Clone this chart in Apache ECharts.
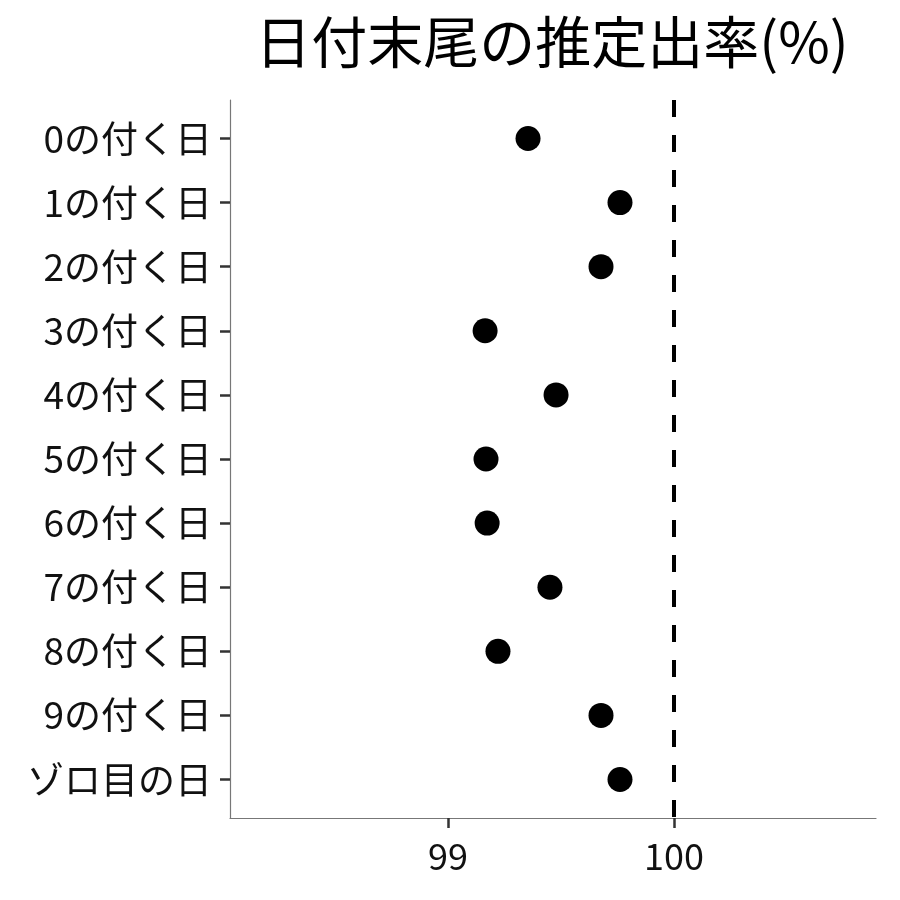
<!DOCTYPE html>
<html>
<head>
<meta charset="utf-8">
<script src="https://cdn.jsdelivr.net/npm/echarts@6/dist/echarts.min.js"></script>
<style>
  html, body { margin: 0; padding: 0; background: #fff; }
  #main { width: 900px; height: 900px; }
</style>
</head>
<body>
<div id="main"></div>
<script>
var categories = ['0の付く日', '1の付く日', '2の付く日', '3の付く日', '4の付く日', '5の付く日',
  '6の付く日', '7の付く日', '8の付く日', '9の付く日', 'ゾロ目の日']
var rates = [99.354, 99.761, 99.677, 99.164, 99.478, 99.168, 99.173, 99.451, 99.221, 99.677, 99.761]
var xTicks = [99, 100]
var refLine = 100

var font = '"Noto Sans CJK JP", "Noto Sans", sans-serif'
var chart = echarts.init(document.getElementById('main'))

// y is a value axis so the 0.6 band padding like ggplot can be kept
var points = rates.map(function (v, i) { return [v, i + 1] })
var yPos = categories.map(function (c, i) { return i + 1 })

chart.setOption({
  animation: false,
  title: {
    text: '日付末尾の推定出率(%)',
    left: 547,
    top: 9,
    textAlign: 'center',
    textStyle: { fontFamily: font, fontSize: 56, fontWeight: 'normal', color: '#000' }
  },
  grid: { left: 230, right: 24, top: 100, bottom: 82 },
  xAxis: {
    type: 'value',
    min: 98.035,
    max: 100.894,
    splitLine: { show: false },
    axisLine: { lineStyle: { color: '#777', width: 1.2 } },
    axisTick: { show: true, customValues: xTicks, length: 10, lineStyle: { color: '#333', width: 2.5 } },
    axisLabel: {
      customValues: xTicks,
      margin: 20,
      fontFamily: font, fontSize: 36, color: '#111'
    }
  },
  yAxis: {
    type: 'value',
    min: 0.4,
    max: 11.6,
    inverse: true,
    splitLine: { show: false },
    axisLine: { show: true, lineStyle: { color: '#777', width: 1.2 } },
    axisTick: { show: true, customValues: yPos, length: 10, lineStyle: { color: '#333', width: 2.5 } },
    axisLabel: {
      customValues: yPos,
      margin: 18,
      fontFamily: font, fontSize: 37, color: '#111',
      formatter: function (v) { return categories[Math.round(v) - 1] || '' }
    }
  },
  series: [{
    type: 'scatter',
    data: points,
    symbolSize: 25,
    itemStyle: { color: '#000', opacity: 1 },
    markLine: {
      silent: true,
      symbol: ['none', 'none'],
      label: { show: false },
      lineStyle: { color: '#000', width: 4, type: [17, 18] },
      data: [{ xAxis: refLine }]
    }
  }]
})
</script>
</body>
</html>
